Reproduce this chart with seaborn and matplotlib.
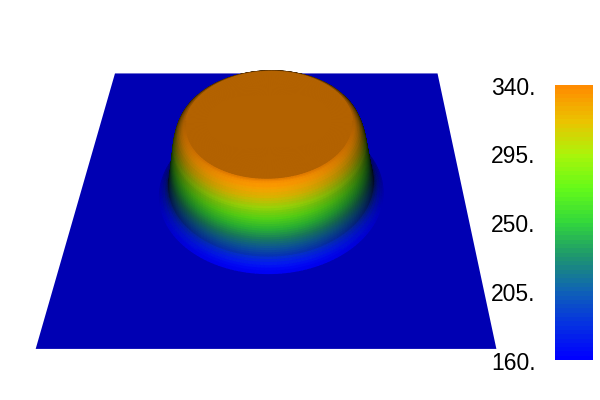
import numpy as np
import matplotlib
matplotlib.use("Agg")
import matplotlib.pyplot as plt
import seaborn as sns

# temperature profile of the bump (radius in plate half-widths)
temperature = [160, 162, 165, 170, 175, 180, 185, 190, 195, 200, 205, 210, 215, 220, 225, 230, 235,
               240, 245, 250, 255, 260, 265, 270, 275, 280, 285, 290, 295, 300, 305, 310, 315,
               320, 325, 330, 333, 336, 338, 339, 340, 340]
radius = [.585, .576, .565, .551, .541, .534, .529, .5265, .524, .5215, .519, .5165, .514, .5115, .509, .5065, .504,
          .5015, .499, .4965, .494, .4915, .489, .4865, .484, .4815, .479, .4765, .4735, .470, .4665, .4625, .458,
          .453, .447, .439, .433, .425, .418, .413, .406, 0.0]
plate_x = [-1.0, 1.0]
plate_y = [-1.0, 1.0]
plate_temperature = 160
tick_values = [340, 295, 250, 205, 160]
tick_labels = ["340.", "295.", "250.", "205.", "160."]
palette_colors = ["#0000ff", "#0532e1", "#0f64b4", "#1e966e", "#32d73c",
                  "#64fa19", "#aaf50a", "#ebc300", "#ff8c00"]

T_MIN, T_MAX = 160, 340
HEIGHT_SCALE = 0.445 / (T_MAX - T_MIN)
ELEV = 44.7
LIGHT = np.array([0, -np.cos(np.radians(ELEV)), np.sin(np.radians(ELEV))])

sns.set_style("white")
plt.rcParams["font.family"] = ["Liberation Sans", "DejaVu Sans"]
cmap = sns.blend_palette(palette_colors, as_cmap=True)


def to_color(temp):
    return np.array(cmap((np.asarray(temp, dtype=float) - T_MIN) / (T_MAX - T_MIN)))


def bump_surface():
    """Revolve the profile and shade each face with a headlight."""
    r = np.array(radius)
    z = (np.array(temperature) - T_MIN) * HEIGHT_SCALE
    theta = np.radians(np.arange(-90, 271, 2.0))
    tt, rr = np.meshgrid(theta, r)
    x = rr * np.cos(tt)
    y = rr * np.sin(tt)
    zz = np.tile(z, (len(theta), 1)).T

    # face normals from the profile slope
    dr = np.diff(r)
    dz = np.diff(z)
    norm = np.hypot(dr, dz)
    t_mid = 0.5 * (tt[:-1, :-1] + tt[:-1, 1:])
    dz_n = (dz / norm)[:, None]
    dr_n = (dr / norm)[:, None]
    shade = dz_n * np.cos(t_mid) * LIGHT[0] + dz_n * np.sin(t_mid) * LIGHT[1] - dr_n * LIGHT[2]

    temp_mid = 0.5 * (np.array(temperature[:-1]) + np.array(temperature[1:]))
    colors = to_color(np.tile(temp_mid, (len(theta) - 1, 1)).T)
    colors[..., :3] *= np.clip(shade, 0, 1)[..., None]
    # back faces would leave a dark rim behind the top
    hidden = (shade <= 0) | ((shade < 0.15) & (np.sin(t_mid) > 0.5))
    colors[..., 3] = (~hidden).astype(float)
    return x, y, zz, colors


fig = plt.figure(figsize=(6, 4), dpi=100)
S = 638
ax = fig.add_axes([(291 - S / 2) / 600, (205 - S / 2) / 400, S / 600, S / 400],
                  projection="3d", computed_zorder=False)
ax.patch.set_alpha(0)
ax.set_proj_type("persp", focal_length=0.2217)
ax.view_init(elev=ELEV, azim=-90)
ax.set_box_aspect((1, 1, 1))
ax.set_xlim(0.148 - 1, 0.148 + 1)
ax.set_ylim(-1, 1)
ax.set_zlim(-1, 1)
ax.set_axis_off()

# flat plate first, the bump goes on top of it
px, py = np.meshgrid(plate_x, plate_y)
plate_rgb = to_color(plate_temperature)
plate_rgb[:3] *= LIGHT[2]
ax.plot_surface(px, py, np.zeros_like(px), color=plate_rgb, shade=False, linewidth=0, zorder=1)

x, y, z, colors = bump_surface()
ax.plot_surface(x, y, z, facecolors=colors, rstride=1, cstride=1, shade=False,
                linewidth=1.0, antialiased=True, zorder=2)

# colour bar
cax = fig.add_axes([555 / 600, 1 - 360 / 400, 38 / 600, 275 / 400])
levels = np.arange(T_MAX, T_MIN - 1, -180 / 63).reshape(-1, 1)
sns.heatmap(levels, ax=cax, cmap=cmap, vmin=T_MIN, vmax=T_MAX, cbar=False,
            xticklabels=False, yticklabels=False)
for value, label in zip(tick_values, tick_labels):
    cax.annotate(label, xy=(0, (value - T_MIN) / (T_MAX - T_MIN)), xycoords="axes fraction",
                 xytext=(-14, -2.2), textcoords="offset points", ha="right", va="center",
                 fontsize=16.5, color="black", annotation_clip=False)

fig.savefig("out.png", dpi=100, facecolor="white")
plt.close(fig)
